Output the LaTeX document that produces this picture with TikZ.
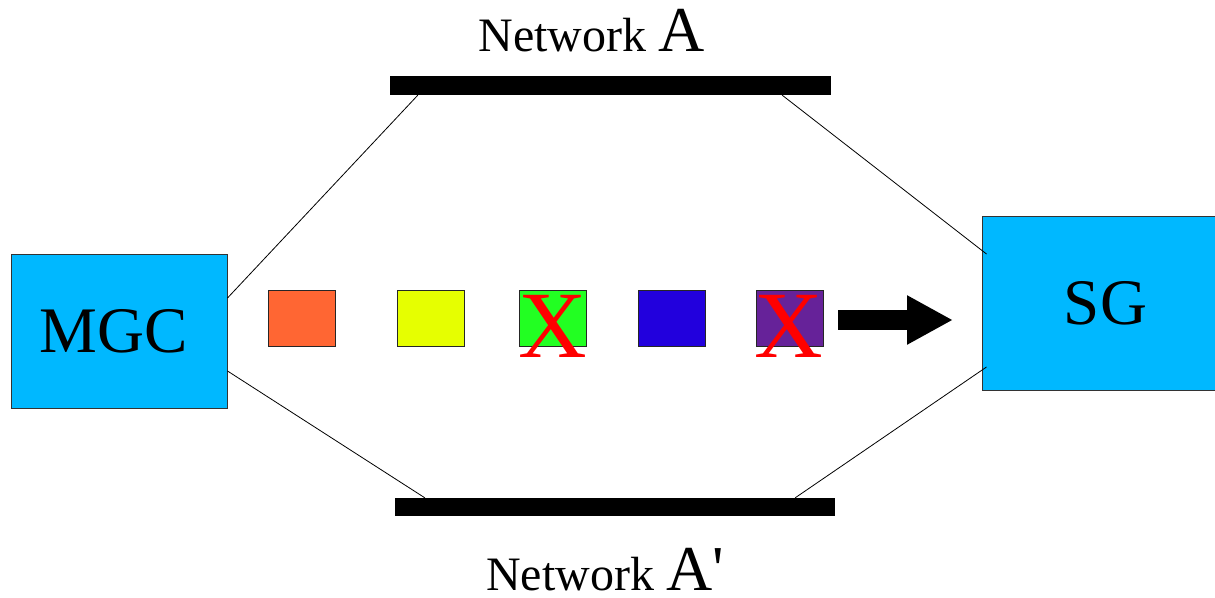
\documentclass[tikz,border=0pt]{standalone}
\usepackage{fontspec}
\setmainfont{Liberation Serif}
\usepackage{xcolor}
\usetikzlibrary{arrows.meta}

\definecolor{boxblue}{HTML}{00B8FF}
\definecolor{pktorange}{HTML}{FF6633}
\definecolor{pktyellow}{HTML}{E6FF00}
\definecolor{pktgreen}{HTML}{22FF22}
\definecolor{pktblue}{HTML}{2200DD}
\definecolor{pktpurple}{HTML}{662299}

\tikzset{
  endbox/.style={draw=black!80, line width=1pt, fill=boxblue, inner sep=0pt,
    font=\fontsize{65}{65}\selectfont},
  netbar/.style={fill=black, inner sep=0pt, minimum height=19pt},
  packet/.style={draw=black!85, line width=1pt, inner sep=0pt,
    minimum width=67pt, minimum height=56pt},
  cross/.style={text=red, inner sep=0pt, anchor=base,
    font=\fontsize{95}{95}\selectfont},
  netlabel/.style={anchor=base, inner sep=0pt, font=\fontsize{48}{50}\selectfont},
  link/.style={line width=0.8pt}
}

\begin{document}
\begin{tikzpicture}[x=1pt,y=-1pt]
                \useasboundingbox (0,0) rectangle (1215,597);
                
                % end points
                \node[endbox, minimum width=216pt, minimum height=154pt] (mgc) at (119,331) {\kern-11pt MGC};
                \node[endbox, minimum width=247pt, minimum height=174pt] (sg) at (1105.5,303) {SG};
                
                % networks
                \node[netbar, minimum width=441pt] (netA) at (610.5,85.5) {};
                \node[netbar, minimum width=440pt, minimum height=18pt] (netAp) at (615,507) {};
                \node[netlabel] (labA) at (591.5,51) {Network {\fontsize{64}{64}\selectfont A}};
                \node[netlabel] (labAp) at (605,590) {Network {\fontsize{64}{64}\selectfont A\textquotesingle}};
                
                \draw[link] ([yshift=33pt]mgc.east) -- ([xshift=28pt]netA.south west);
                \draw[link] ([xshift=-49pt]netA.south east) -- ([xshift=5pt,yshift=49pt]sg.west);
                \draw[link] ([yshift=-40pt]mgc.east) -- ([xshift=30pt]netAp.north west);
                \draw[link] ([xshift=-40pt]netAp.north east) -- ([xshift=5pt,yshift=-64pt]sg.west);
                
                % packets
                \node[packet, fill=pktorange] (pkt1) at (301.5,318) {};
                \node[packet, fill=pktyellow] (pkt2) at (431,318) {};
                \node[packet, fill=pktgreen] (pkt3) at (552.5,318) {};
                \node[packet, fill=pktblue] (pkt4) at (672,318) {};
                \node[packet, fill=pktpurple] (pkt5) at (789.5,318) {};
                
                \node[cross] (lost3) at (552.5,357) {X};
                \node[cross] (lost5) at (788.5,357) {X};
                
                % direction
                \coordinate (flowstart) at (838,320);
                \coordinate (flowend) at (953,320);
                \draw[line width=20pt, -{Triangle[length=46pt, width=46pt]}] (flowstart) -- (flowend);
            \end{tikzpicture}
\end{document}
